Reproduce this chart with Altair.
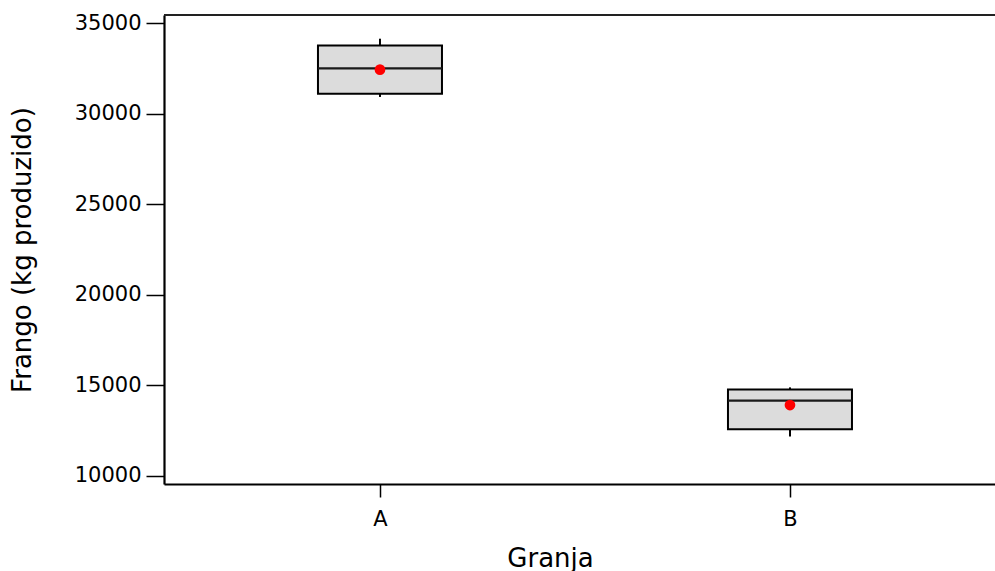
import altair as alt
import pandas as pd

# Summary statistics of chicken production per farm
granja = ["A", "B"]
minimo = [30930, 12165]
q1 = [31110, 12570]
mediana = [32510, 14150]
q3 = [33780, 14760]
maximo = [34150, 14880]
media = [32440, 13905]

df = pd.DataFrame({
    "Granja": granja,
    "min": minimo,
    "q1": q1,
    "mediana": mediana,
    "q3": q3,
    "max": maximo,
    "media": media,
})

W, H = 831, 469
FONT = "DejaVu Sans"

x_enc = alt.X(
    "Granja:N",
    scale=alt.Scale(type="point", padding=0.5134, align=0.513),
    axis=alt.Axis(
        title="Granja", labelAngle=0, labelFontSize=21, labelColor="black",
        labelPadding=11, tickSize=13, tickColor="black", tickWidth=1.5,
        domainColor="black", domainWidth=2.2, grid=False,
        titleFontSize=26, titleFontWeight="normal", titleColor="black",
        titleX=386, titleY=82, titleBaseline="alphabetic", titleAlign="center",
    ),
)
y_scale = alt.Scale(domain=[9540, 35460], nice=False, zero=False)
y_axis = alt.Axis(
    title="Frango (kg produzido)", values=[10000, 15000, 20000, 25000, 30000, 35000],
    format="d",
    labelFontSize=21, labelColor="black", labelPadding=5, tickSize=18,
    tickColor="black", tickWidth=1.5, domainColor="black", domainWidth=2.2,
    grid=False, titleFontSize=26, titleFontWeight="normal", titleColor="black",
    titleX=-142, titleAngle=270, titleBaseline="middle", titleAlign="center",
)

base = alt.Chart(df)

whisker_hi = base.mark_rule(color="black", strokeWidth=2).encode(
    x=x_enc, y=alt.Y("q3:Q", scale=y_scale, axis=y_axis), y2="max:Q"
)
whisker_lo = base.mark_rule(color="black", strokeWidth=2).encode(
    x=x_enc, y=alt.Y("min:Q", scale=y_scale), y2="q1:Q"
)
box = base.mark_bar(size=124, fill="#dcdcdc", stroke="black", strokeWidth=2).encode(
    x=x_enc, y=alt.Y("q1:Q", scale=y_scale), y2="q3:Q"
)
median_line = base.mark_tick(
    size=124, thickness=2.2, color="#1a1a1a", opacity=1, orient="horizontal"
).encode(
    x=x_enc, y=alt.Y("mediana:Q", scale=y_scale)
)
mean_pt = base.mark_point(filled=True, shape="circle", size=115, color="#ff0000", opacity=1).encode(
    x=x_enc, y=alt.Y("media:Q", scale=y_scale)
)
top_border = alt.Chart(pd.DataFrame({"v": [0]})).mark_rule(color="#222222", strokeWidth=2.2).encode(
    x=alt.value(0), x2=alt.value(W), y=alt.value(0)
)

chart = (
    alt.layer(whisker_hi, whisker_lo, box, median_line, mean_pt, top_border)
    .properties(
        width=W, height=H,
        autosize=alt.AutoSizeParams(type="none"),
        padding={"left": 164, "top": 15, "right": 0, "bottom": 87},
    )
    .configure_view(stroke=None)
    .configure(font=FONT, background="white")
)

chart.save("out.html", embed_options={"renderer": "svg", "actions": False})
